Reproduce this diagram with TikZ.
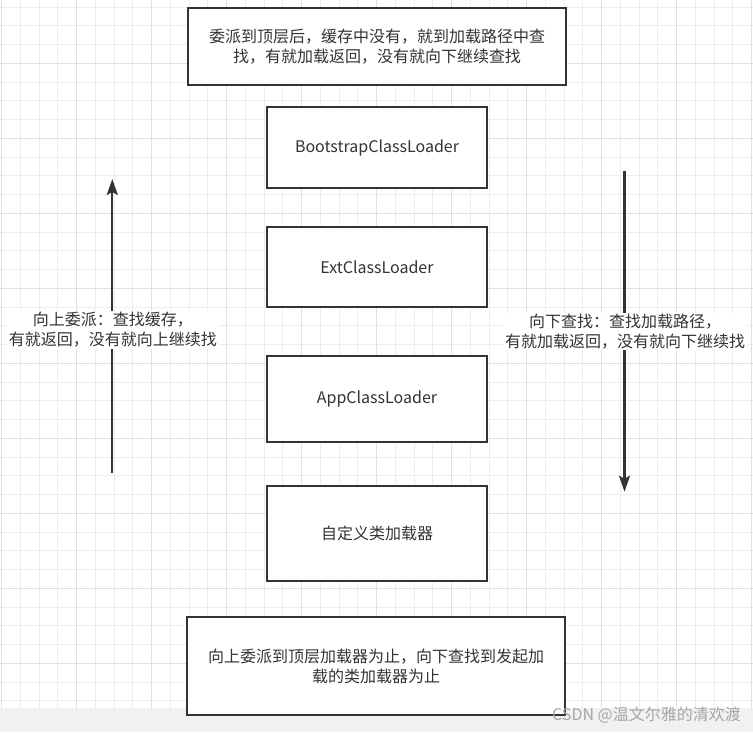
\documentclass[tikz,border=0pt]{standalone}
\usepackage{fontspec}
\setmainfont{Noto Sans CJK SC}
\usetikzlibrary{arrows.meta}
\definecolor{ink}{HTML}{333333}
\definecolor{gridminor}{HTML}{EDEDED}
\definecolor{gridmajor}{HTML}{E0E0E0}
\definecolor{band}{HTML}{F1F1F1}
\definecolor{wm}{HTML}{A6A6A6}
\tikzset{
  box/.style={draw=ink, line width=2.2pt, fill=white, text=ink, align=center,
    font=\fontsize{16}{20}\selectfont, inner sep=0pt},
  lbl/.style={fill=white, text=ink, align=center, inner xsep=2pt, inner ysep=1pt,
    font=\fontsize{16}{20}\selectfont},
  arr/.style={draw=ink, line width=2.2pt,
    -{Stealth[length=16pt, width=11pt, inset=3pt]}},
  gminor/.style={draw=gridminor, line width=1pt},
  gmajor/.style={draw=gridmajor, line width=1pt}
}
\begin{document}
\begin{tikzpicture}[x=1pt, y=-1pt]
\useasboundingbox (0,0) rectangle (753,732);
\fill[white] (0,0) rectangle (753,732);
% grid
\foreach \i in {0,...,40} {
  \draw[gminor] ({1.7+18.75*\i},0) -- ({1.7+18.75*\i},708);
}
\foreach \i in {0,...,37} {
  \draw[gminor] (0,{7.05+18.75*\i}) -- (753,{7.05+18.75*\i});
}
\foreach \i in {0,...,10} {
  \draw[gmajor] ({1.7+75*\i},0) -- ({1.7+75*\i},708);
}
\foreach \i in {0,...,8} {
  \draw[gmajor] (0,{63.3+75*\i}) -- (753,{63.3+75*\i});
}
% bottom band
\fill[band] (0,708) rectangle (753,732);

% boxes
\node[box, minimum width=378pt, minimum height=77pt] (top) at (377,46.5)
  {委派到顶层后，缓存中没有，就到加载路径中查\\找，有就加载返回，没有就向下继续查找};
\node[box, minimum width=220pt, minimum height=81pt] (boot) at (377,147.5)
  {BootstrapClassLoader};
\node[box, minimum width=220pt, minimum height=80pt] (ext) at (377,267)
  {ExtClassLoader};
\node[box, minimum width=220pt, minimum height=86pt] (app) at (377,399)
  {AppClassLoader};
\node[box, minimum width=220pt, minimum height=95pt] (custom) at (377,533.5)
  {自定义类加载器};
\node[box, minimum width=378pt, minimum height=98pt] (bottom) at (376,666)
  {向上委派到顶层加载器为止，向下查找到发起加\\载的类加载器为止};

% arrows
\coordinate (upS) at (112.3,473);
\coordinate (upE) at (112.3,179);
\coordinate (dnS) at (624.5,170.7);
\coordinate (dnE) at (624.5,491.7);
\draw[arr] (upS) -- (upE);
\draw[arr] (dnS) -- (dnE);
\node[lbl] (uplbl) at (112.8,330) {向上委派：查找缓存，\\有就返回，没有就向上继续找};
\node[lbl] (dnlbl) at (625,331.5) {向下查找：查找加载路径，\\有就加载返回，没有就向下继续找};

% watermark
\node[text=wm, anchor=west, inner sep=0pt, font=\fontsize{16}{18}\selectfont] (wmark) at (552,715)
  {CSDN @温文尔雅的清欢渡};
\end{tikzpicture}
\end{document}
